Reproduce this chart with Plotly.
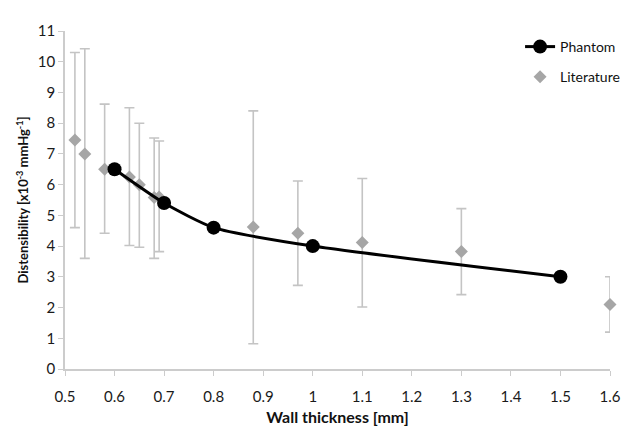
import plotly.graph_objects as go

phantom_x = [0.6, 0.7, 0.8, 1.0, 1.5]
phantom_y = [6.5, 5.4, 4.6, 4.0, 3.0]

lit_x = [0.52, 0.54, 0.58, 0.63, 0.65, 0.68, 0.69, 0.88, 0.97, 1.1, 1.3, 1.6]
lit_y = [7.45, 7.0, 6.5, 6.25, 6.0, 5.58, 5.6, 4.62, 4.42, 4.12, 3.82, 2.1]
lit_hi = [10.3, 10.42, 8.62, 8.5, 8.0, 7.52, 7.42, 8.4, 6.12, 6.2, 5.22, 3.0]
lit_lo = [4.6, 3.6, 4.42, 4.02, 3.96, 3.6, 3.82, 0.82, 2.72, 2.02, 2.42, 1.2]

err_plus = [h - y for h, y in zip(lit_hi, lit_y)]
err_minus = [y - l for y, l in zip(lit_y, lit_lo)]

x_ticks = [0.5, 0.6, 0.7, 0.8, 0.9, 1.0, 1.1, 1.2, 1.3, 1.4, 1.5, 1.6]
x_labels = ["0.5", "0.6", "0.7", "0.8", "0.9", "1", "1.1", "1.2", "1.3", "1.4", "1.5", "1.6"]
y_ticks = list(range(0, 12))

fig = go.Figure()
fig.add_trace(go.Scatter(
    x=lit_x, y=lit_y, mode="markers", name="Literature", legendgroup="lit", legendrank=2,
    cliponaxis=False,
    marker=dict(symbol="diamond", size=10, color="#a6a6a6"),
    error_y=dict(type="data", symmetric=False, array=err_plus, arrayminus=err_minus,
                 color="#c4c4c4", thickness=1.6, width=5),
))
fig.add_trace(go.Scatter(
    x=phantom_x, y=phantom_y, mode="lines+markers", name="Phantom", legendgroup="ph", legendrank=1,
    cliponaxis=False,
    line=dict(color="black", width=3, shape="spline", smoothing=0.6),
    marker=dict(symbol="circle", size=14, color="black"),
))

font_family = "Lato, 'Open Sans', sans-serif"
fig.update_layout(
    width=634, height=427,
    margin=dict(l=57, r=32, t=23, b=66, autoexpand=False),
    paper_bgcolor="white", plot_bgcolor="white",
    font=dict(family=font_family, size=15, color="#1a1a1a"),
    showlegend=True,
    legend=dict(x=0.835, y=1.0, xanchor="left", yanchor="top",
                traceorder="grouped", font=dict(size=14, color="#111"),
                bgcolor="rgba(0,0,0,0)", tracegroupgap=9),
    xaxis=dict(range=[0.5, 1.6], tickvals=x_ticks, ticktext=x_labels, automargin=False,
               showgrid=False, zeroline=False, showline=True, linecolor="#cccccc",
               linewidth=1.5, ticks="outside", ticklen=5, tickcolor="#cccccc",
               ticklabelstandoff=8,
               title=dict(text="<b>Wall thickness [mm]</b>", font=dict(size=16, color="#111"),
                          standoff=8)),
    yaxis=dict(range=[0, 11], tickvals=y_ticks, automargin=False,
               showgrid=False, zeroline=False, showline=True, linecolor="#cccccc",
               linewidth=1.5, ticks="outside", ticklen=5, tickcolor="#cccccc",
               title=dict(text="<b>Distensibility [x10<sup>-3</sup> mmHg<sup>-1</sup>]</b>",
                          font=dict(size=13, color="#111"), standoff=6)),
)

fig.write_html("out.html")
